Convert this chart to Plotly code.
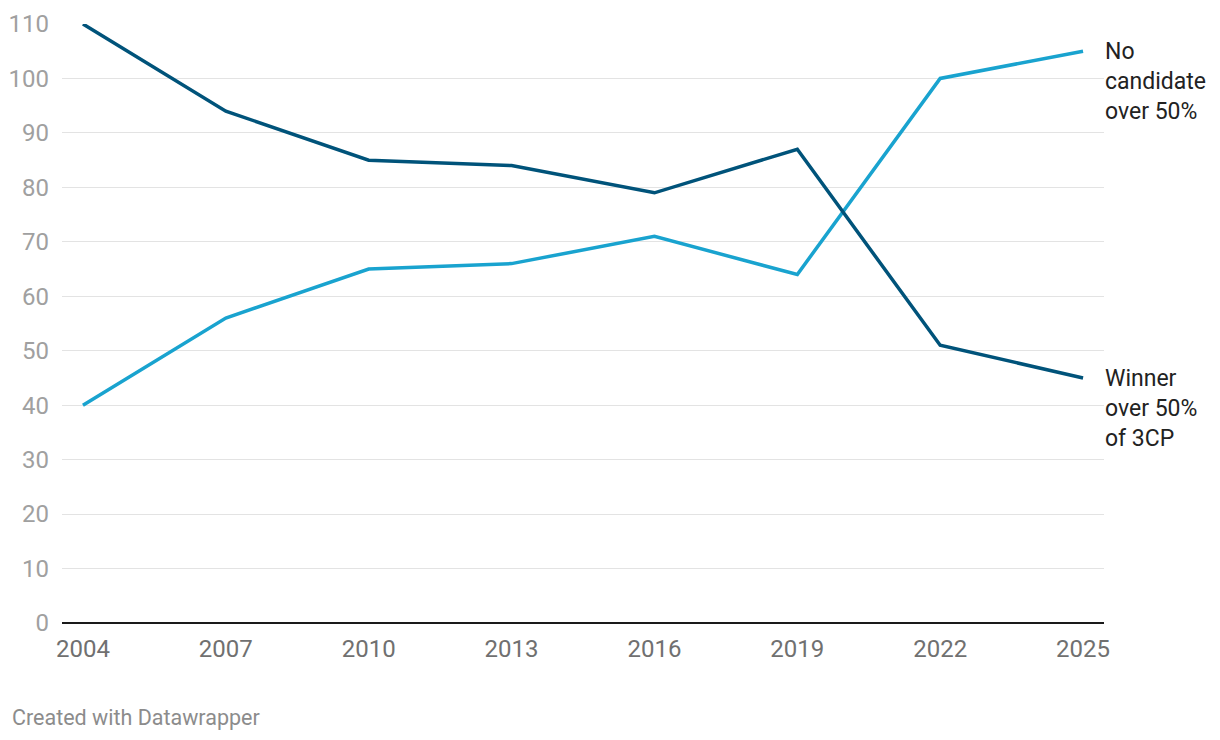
import plotly.graph_objects as go

years = [2004, 2007, 2010, 2013, 2016, 2019, 2022, 2025]
winner_over_50 = [110, 94, 85, 84, 79, 87, 51, 45]
no_candidate_over_50 = [40, 56, 65, 66, 71, 64, 100, 105]
y_ticks = list(range(0, 111, 10))

dark = "#00537a"
light = "#19a3cf"

fig = go.Figure()
fig.add_trace(go.Scatter(x=years, y=no_candidate_over_50, mode="lines", cliponaxis=False,
                         line=dict(color=light, width=3.5), name="No candidate over 50%"))
fig.add_trace(go.Scatter(x=years, y=winner_over_50, mode="lines", cliponaxis=False,
                         line=dict(color=dark, width=3.5), name="Winner over 50% of 3CP"))

lab_font = dict(family="Roboto", size=23, color="#222222")
fig.add_annotation(x=years[-1], y=no_candidate_over_50[-1], xref="x", yref="y",
                   text="No<br>candidate<br>over 50%", showarrow=False,
                   xanchor="left", yanchor="top", align="left", xshift=20, yshift=15,
                   font=lab_font)
fig.add_annotation(x=years[-1], y=winner_over_50[-1], xref="x", yref="y",
                   text="Winner<br>over 50%<br>of 3CP", showarrow=False,
                   xanchor="left", yanchor="top", align="left", xshift=20, yshift=15,
                   font=lab_font)
fig.add_annotation(x=0, y=0, xref="paper", yref="paper", xanchor="left", yanchor="middle",
                   text="Created with Datawrapper", showarrow=False,
                   xshift=-52, yshift=-94,
                   font=dict(family="Roboto", size=21.5, color="#8c8c8c"))

fig.update_layout(
    width=1220, height=740,
    margin=dict(l=54, r=124, t=16, b=125, autoexpand=False),
    paper_bgcolor="white", plot_bgcolor="white",
    showlegend=False,
    font=dict(family="Roboto"),
)
fig.update_xaxes(range=[2003.56, 2025.44], tickvals=years, ticktext=[str(y) for y in years],
                 showgrid=False, zeroline=False, showline=False, automargin=False,
                 ticks="", ticklabelstandoff=9,
                 tickfont=dict(family="Roboto", size=24, color="#707070"))
fig.update_yaxes(range=[0, 110], tickvals=y_ticks, showgrid=True, gridcolor="#e3e3e3", gridwidth=1,
                 zeroline=True, zerolinecolor="#1a1a1a", zerolinewidth=2,
                 showline=False, automargin=False, ticks="", ticklabelstandoff=12,
                 tickfont=dict(family="Roboto", size=24, color="#a0a0a0"))

fig.write_html("out.html")
